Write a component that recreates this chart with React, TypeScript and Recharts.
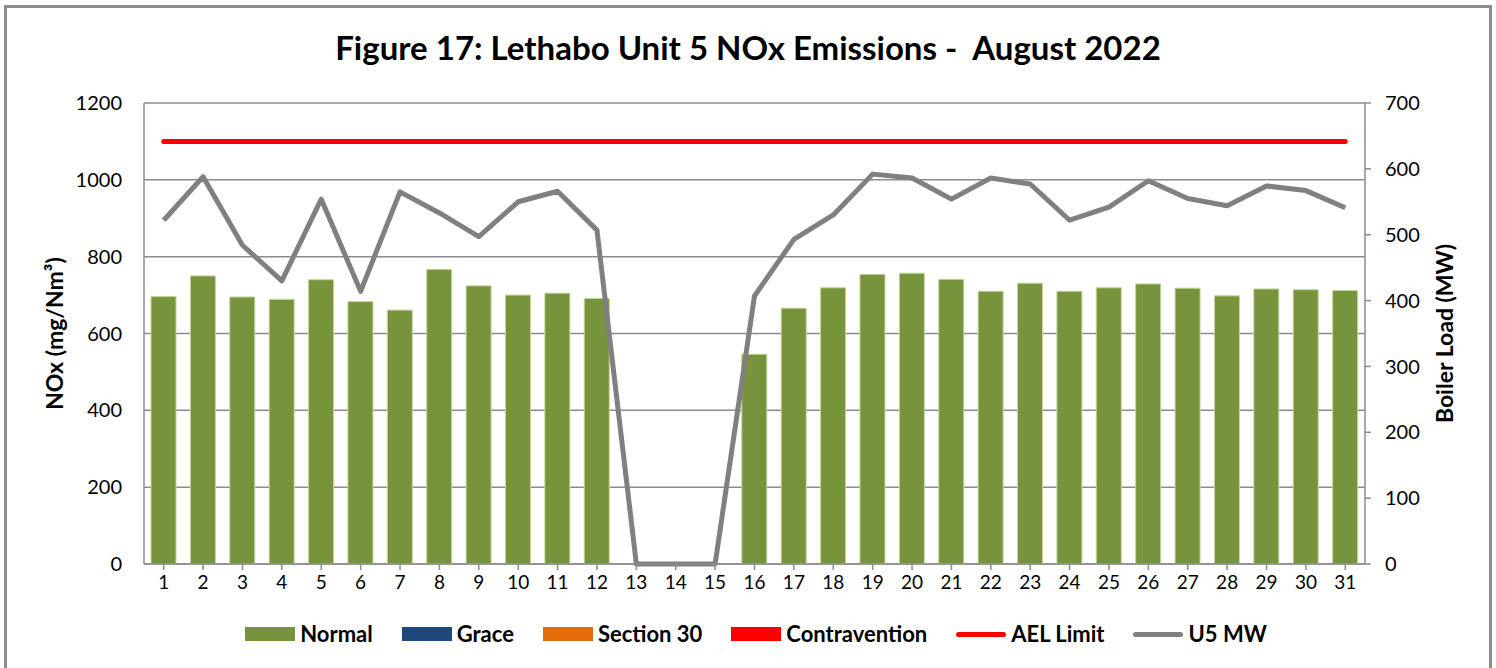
import React from 'react';
import { ComposedChart, Bar, Line, XAxis, YAxis, CartesianGrid, Label } from 'recharts';

const DAYS = [
  '1', '2', '3', '4', '5', '6', '7', '8', '9', '10', '11', '12', '13', '14', '15', '16',
  '17', '18', '19', '20', '21', '22', '23', '24', '25', '26', '27', '28', '29', '30', '31',
];

// NOx (mg/Nm³), daily average — no data on 13–15 (unit off)
const NORMAL = [
  696, 750, 695, 689, 740, 683, 661, 767, 724, 700, 705, 691, null, null, null, 546,
  666, 719, 754, 757, 741, 710, 731, 710, 719, 729, 718, 698, 716, 714, 712,
];

// empty categories in this month, kept for the legend/stack
const GRACE: (number | null)[] = DAYS.map(() => null);
const SECTION_30: (number | null)[] = DAYS.map(() => null);
const CONTRAVENTION: (number | null)[] = DAYS.map(() => null);

const AEL_LIMIT = 1100;

// boiler load (MW)
const U5_MW = [
  522, 588, 484, 430, 554, 414, 565, 533, 497, 550, 566, 507, 0, 0, 0, 407,
  493, 530, 592, 586, 554, 586, 577, 522, 542, 582, 555, 544, 574, 567, 541,
];

const NOX_TICKS = [0, 200, 400, 600, 800, 1000, 1200];
const MW_TICKS = [0, 100, 200, 300, 400, 500, 600, 700];

const C = {
  normal: '#77933C',
  grace: '#1F497D',
  s30: '#E46C0A',
  contra: '#FF0000',
  ael: '#FF0000',
  mw: '#808080',
  axis: '#8c8c8c',
};

const LEGEND = [
  { name: 'Normal', color: C.normal, kind: 'rect' },
  { name: 'Grace', color: C.grace, kind: 'rect' },
  { name: 'Section 30', color: C.s30, kind: 'rect' },
  { name: 'Contravention', color: C.contra, kind: 'rect' },
  { name: 'AEL Limit', color: C.ael, kind: 'line' },
  { name: 'U5 MW', color: C.mw, kind: 'line' },
];

const data = DAYS.map((day, i) => ({
  day,
  normal: NORMAL[i],
  grace: GRACE[i],
  s30: SECTION_30[i],
  contra: CONTRAVENTION[i],
  ael: AEL_LIMIT,
  mw: U5_MW[i],
}));

const FONT = 'Lato, "Open Sans", sans-serif';
const tick = { fill: '#000', fontSize: 20, fontFamily: FONT };
const axisTitle = { textAnchor: 'middle', fontWeight: 700, fontSize: 23, fontFamily: FONT, fill: '#000' } as const;

export default function App() {
  return (
    <div style={{ position: 'fixed', left: 0, top: 0, width: 1496, height: 668, overflow: 'hidden', background: '#fff', fontFamily: FONT }}>
      <div style={{ position: 'absolute', left: 4, top: 5, width: 1488, height: 720, border: `3px solid ${C.axis}`, boxSizing: 'border-box' }} />
      <div style={{ position: 'absolute', left: 0, top: 27, width: 1496, textAlign: 'center', fontWeight: 700, fontSize: 33, color: '#000', whiteSpace: 'pre' }}>
        {'Figure 17: Lethabo Unit 5 NOx Emissions -  August 2022'}
      </div>

      <div style={{ position: 'absolute', left: 0, top: 0 }}>
        <ComposedChart width={1496} height={668} data={data} margin={{ top: 103, right: 31, left: 44, bottom: 64 }}>
          <CartesianGrid yAxisId="left" vertical={false} stroke={C.axis} strokeWidth={1.5} />
          <XAxis
            dataKey="day"
            tick={{ ...tick, fontSize: 19 }}
            tickSize={6}
            tickMargin={6}
            height={40}
            interval={0}
            stroke={C.axis}
            axisLine={{ stroke: C.axis, strokeWidth: 1.5 }}
            tickLine={{ stroke: C.axis, strokeWidth: 1.5 }}
          />
          <YAxis
            yAxisId="left"
            domain={[0, 1200]}
            ticks={NOX_TICKS}
            tick={tick}
            width={100}
            tickSize={0}
            tickMargin={22}
            tickLine={false}
            axisLine={{ stroke: C.axis, strokeWidth: 1.5 }}
          >
            <Label value="NOx (mg/Nm³)" angle={-90} position="insideLeft" offset={0} dx={11} style={axisTitle} />
          </YAxis>
          <YAxis
            yAxisId="right"
            orientation="right"
            domain={[0, 700]}
            ticks={MW_TICKS}
            tick={tick}
            width={100}
            tickSize={6}
            tickMargin={14}
            axisLine={{ stroke: C.axis, strokeWidth: 1.5 }}
            tickLine={{ stroke: C.axis, strokeWidth: 1.5 }}
          >
            <Label value="Boiler Load (MW)" angle={-90} position="insideRight" offset={0} dx={-20} style={axisTitle} />
          </YAxis>

          <Bar yAxisId="left" dataKey="normal" stackId="nox" fill={C.normal} stroke="#c3d69b" strokeWidth={1} barSize={25} isAnimationActive={false} />
          <Bar yAxisId="left" dataKey="grace" stackId="nox" fill={C.grace} barSize={25} isAnimationActive={false} />
          <Bar yAxisId="left" dataKey="s30" stackId="nox" fill={C.s30} barSize={25} isAnimationActive={false} />
          <Bar yAxisId="left" dataKey="contra" stackId="nox" fill={C.contra} barSize={25} isAnimationActive={false} />

          <Line yAxisId="left" type="linear" dataKey="ael" stroke={C.ael} strokeWidth={5} strokeLinecap="round" dot={false} activeDot={false} isAnimationActive={false} />
          <Line yAxisId="right" type="linear" dataKey="mw" stroke={C.mw} strokeWidth={5} strokeLinejoin="round" dot={false} activeDot={false} isAnimationActive={false} />
        </ComposedChart>
      </div>

      <div style={{ position: 'absolute', left: 8, top: 619, width: 1496, display: 'flex', justifyContent: 'center', alignItems: 'center', gap: 29 }}>
        {LEGEND.map((it) => (
          <div key={it.name} style={{ display: 'flex', alignItems: 'center', gap: 5 }}>
            {it.kind === 'rect' ? (
              <div style={{ width: 50, height: 14, background: it.color }} />
            ) : (
              <div style={{ width: 50, height: 5, borderRadius: 3, background: it.color }} />
            )}
            <span style={{ fontWeight: 700, fontSize: 22, color: '#000', lineHeight: '30px' }}>{it.name}</span>
          </div>
        ))}
      </div>
    </div>
  );
}
